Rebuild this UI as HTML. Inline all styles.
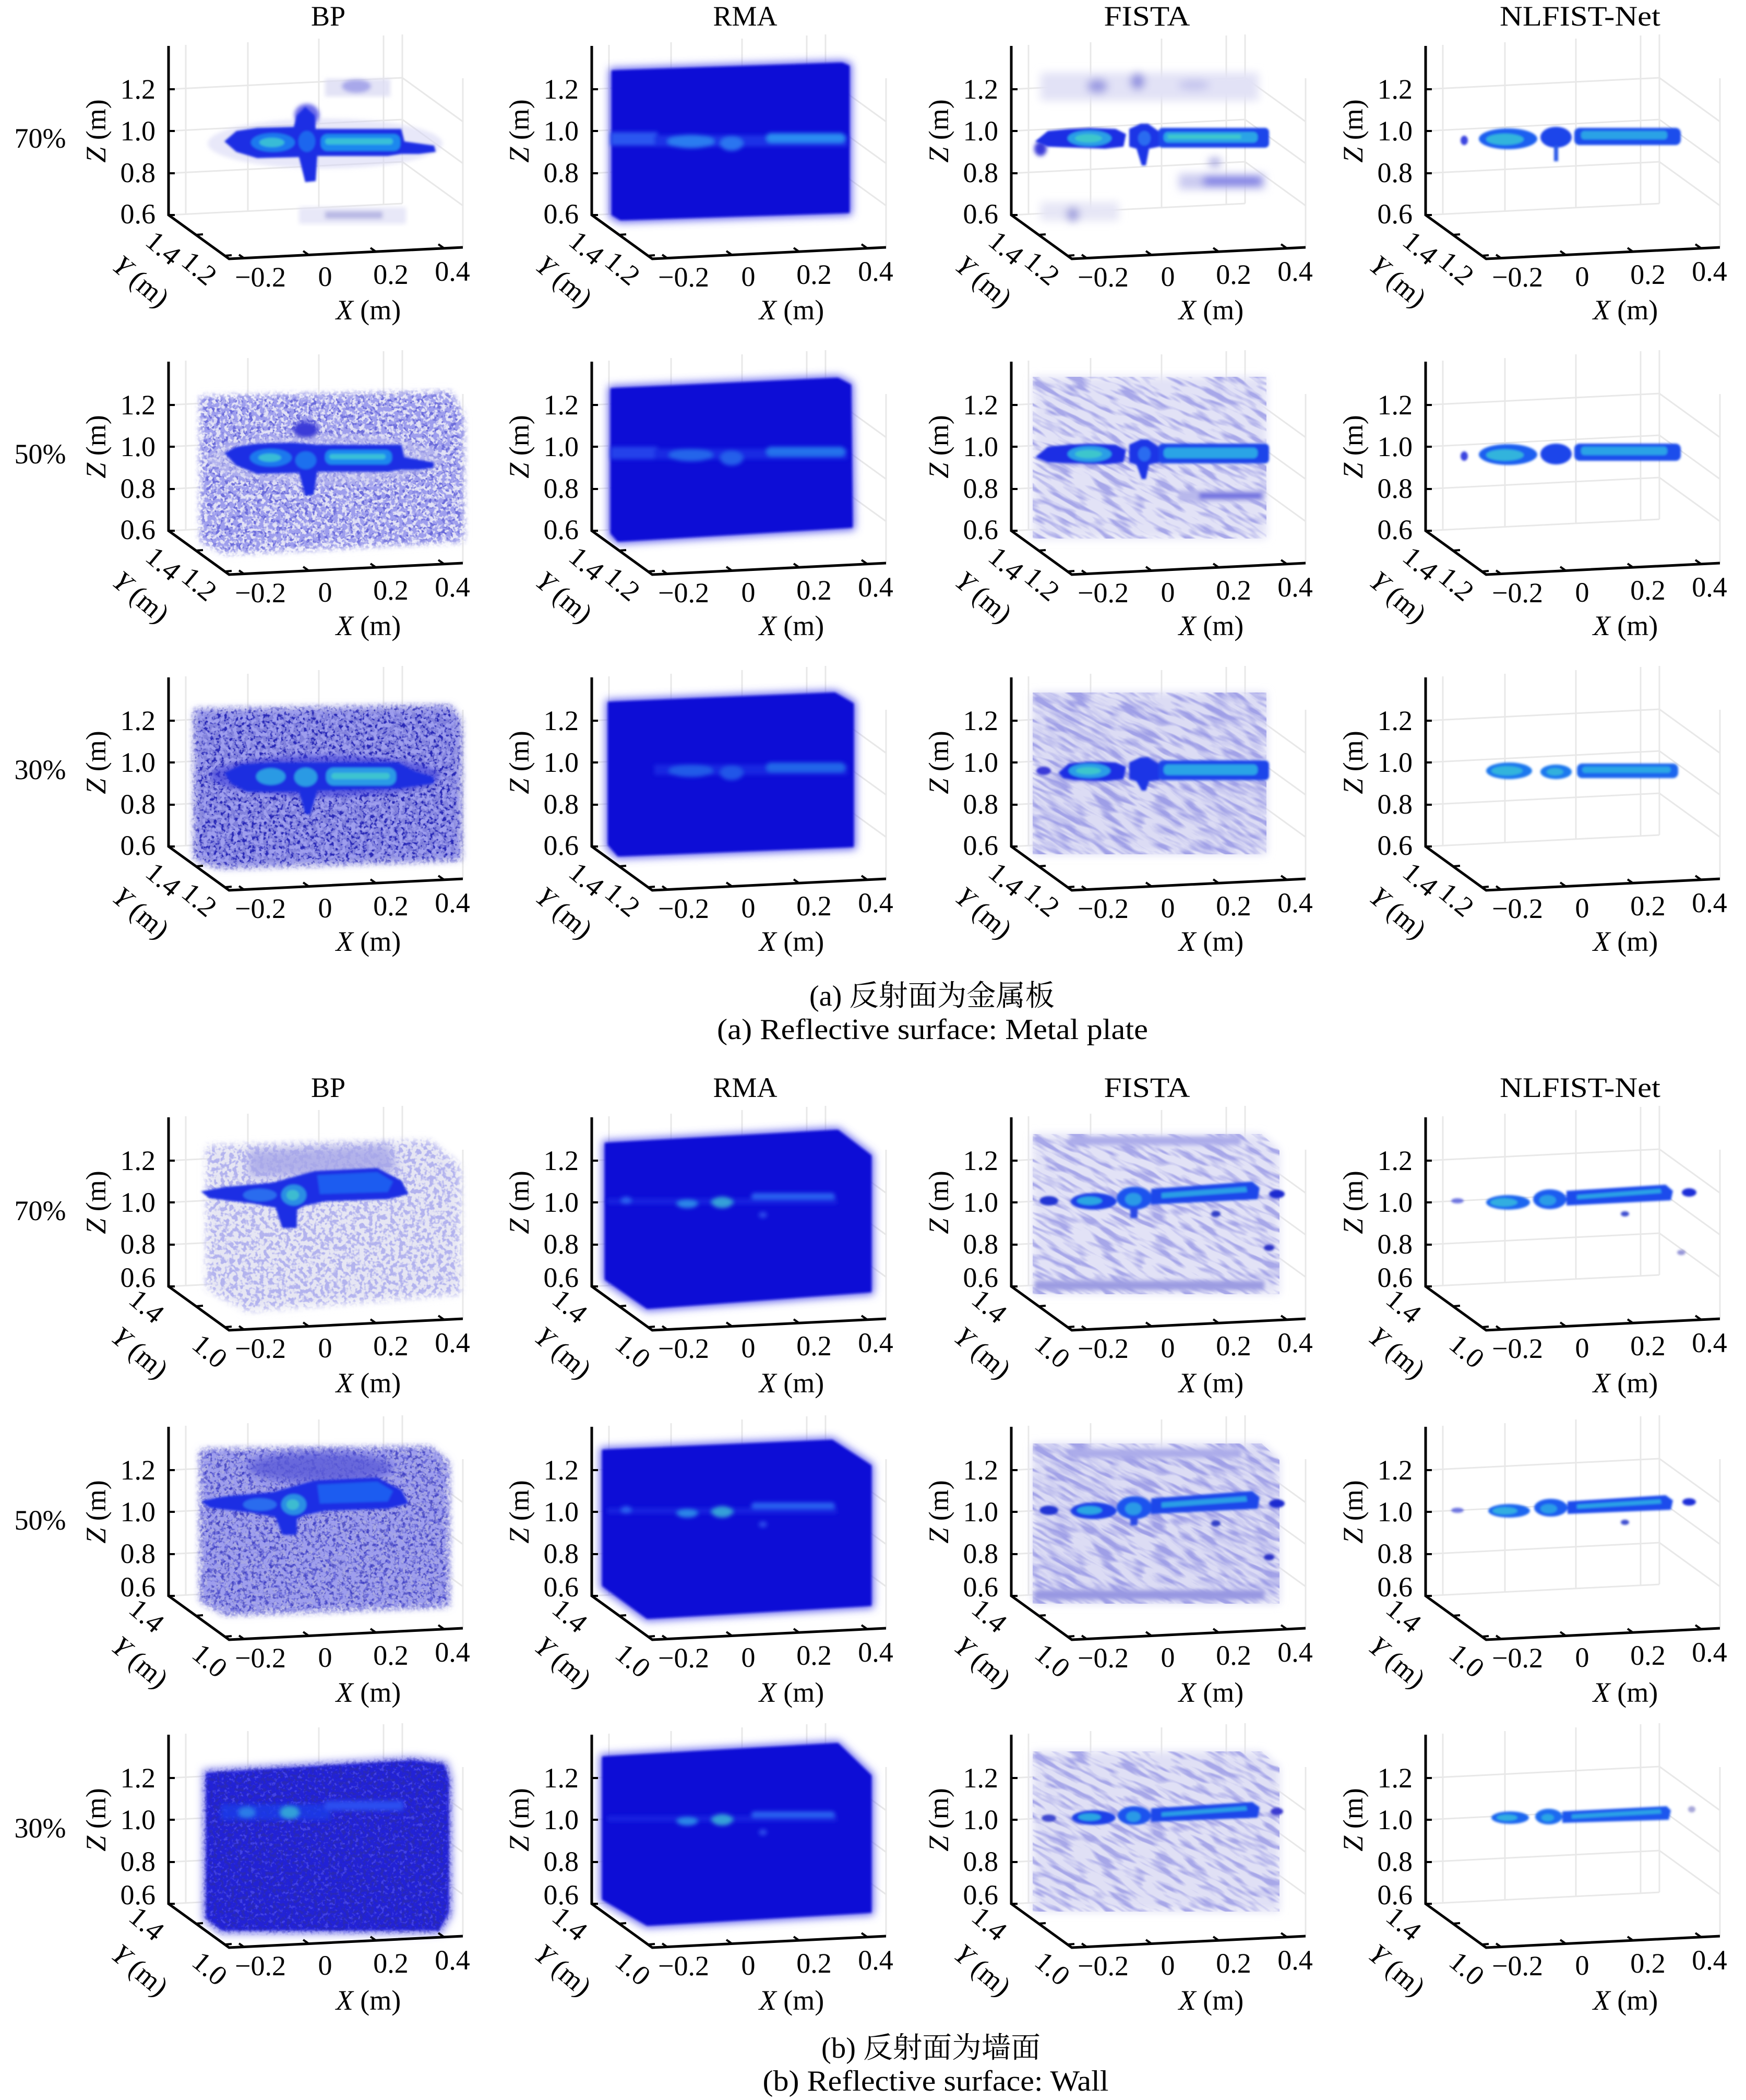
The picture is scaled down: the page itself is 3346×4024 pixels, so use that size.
<!DOCTYPE html>
<html><head><meta charset="utf-8">
<style>
html,body{margin:0;padding:0;background:#fff;width:3346px;height:4024px;overflow:hidden}
svg{display:block;overflow:hidden}
text{font-family:"Liberation Serif","Noto Serif CJK SC",serif;font-size:54px;fill:#000}
.e{text-anchor:end}.m{text-anchor:middle}.c{text-anchor:middle;dominant-baseline:central}
.ax{fill:none;stroke:#000;stroke-width:5}
.tk{fill:none;stroke:#000;stroke-width:4}
.gr{fill:none;stroke:#e8e8e8;stroke-width:3}
</style></head><body>
<svg xmlns="http://www.w3.org/2000/svg" width="3346" height="4024" viewBox="0 0 3346 4024">
<defs>
<filter id="b2" x="-20%" y="-20%" width="140%" height="140%"><feGaussianBlur stdDeviation="2"/></filter>
<filter id="b4" x="-30%" y="-30%" width="160%" height="160%"><feGaussianBlur stdDeviation="4"/></filter>
<filter id="b8" x="-20%" y="-20%" width="140%" height="140%"><feGaussianBlur stdDeviation="8"/></filter>
<filter id="nL" x="-3%" y="-3%" width="106%" height="106%" color-interpolation-filters="sRGB">
<feGaussianBlur in="SourceAlpha" stdDeviation="6" result="m"/>
<feTurbulence type="fractalNoise" baseFrequency="0.12" numOctaves="2" seed="3" result="t"/>
<feColorMatrix in="t" type="matrix" values="0 0 0 0 0.62 0 0 0 0 0.62 0 0 0 0 0.93 6 0 0 0 -2.7" result="c"/>
<feComposite in="c" in2="m" operator="in"/></filter>
<filter id="nM" x="-3%" y="-3%" width="106%" height="106%" color-interpolation-filters="sRGB">
<feGaussianBlur in="SourceAlpha" stdDeviation="6" result="m"/>
<feTurbulence type="fractalNoise" baseFrequency="0.13" numOctaves="2" seed="7" result="t"/>
<feColorMatrix in="t" type="matrix" values="0 0 0 0 0.42 0 0 0 0 0.42 0 0 0 0 0.86 6 0 0 0 -2.8" result="c"/>
<feComposite in="c" in2="m" operator="in"/></filter>
<filter id="nD" x="-3%" y="-3%" width="106%" height="106%" color-interpolation-filters="sRGB">
<feGaussianBlur in="SourceAlpha" stdDeviation="6" result="m"/>
<feTurbulence type="fractalNoise" baseFrequency="0.15" numOctaves="2" seed="13" result="t"/>
<feColorMatrix in="t" type="matrix" values="0 0 0 0 0.16 0 0 0 0 0.16 0 0 0 0 0.72 6 0 0 0 -2.9" result="c"/>
<feComposite in="c" in2="m" operator="in"/></filter>
<filter id="nB" x="-3%" y="-3%" width="106%" height="106%" color-interpolation-filters="sRGB">
<feGaussianBlur in="SourceAlpha" stdDeviation="6" result="m"/>
<feTurbulence type="fractalNoise" baseFrequency="0.14" numOctaves="2" seed="21" result="t"/>
<feColorMatrix in="t" type="matrix" values="0 0 0 0 0.30 0 0 0 0 0.30 0 0 0 0 0.92 6 0 0 0 -3.2" result="c"/>
<feComposite in="c" in2="m" operator="in"/></filter>
<filter id="nS" x="-3%" y="-3%" width="106%" height="106%" color-interpolation-filters="sRGB">
<feTurbulence type="fractalNoise" baseFrequency="0.02 0.09" numOctaves="2" seed="5" result="t"/>
<feColorMatrix in="t" type="matrix" values="0 0 0 0 0.60 0 0 0 0 0.60 0 0 0 0 0.90 4 0 0 0 -1.8" result="c"/>
<feComposite in="c" in2="SourceAlpha" operator="in"/></filter>
<clipPath id="cFt"><polygon points="41,-134 489,-134 489,176 41,176"/></clipPath>
<clipPath id="cFb"><polygon points="41,-131 480,-131 514,-100 514,176 41,176"/></clipPath>
</defs>
<rect width="3346" height="4024" fill="#fff"/>

<!-- titles top -->
<text class="m" x="629" y="49">BP</text>
<text class="m" x="1428" y="49">RMA</text>
<text class="m" x="2198" y="49" textLength="165" lengthAdjust="spacingAndGlyphs">FISTA</text>
<text class="m" x="3028" y="49" textLength="308" lengthAdjust="spacingAndGlyphs">NLFIST-Net</text>
<text class="m" x="77" y="283">70%</text>
<text class="m" x="77" y="888">50%</text>
<text class="m" x="77" y="1493">30%</text>

<!-- ========== ROW 1 (top, R=251) ========== -->
<g transform="translate(323,251)">
<path class="gr" d="M33,159V-165M152,154V-170M288,147V-177M412,141V-183M448,139V-185M564,223V-101M0,-80L448,-102M0,0L448,-22M0,81L448,59M0,161L448,139M448,-102L564,-18M448,-22L564,62M448,59L564,143"/>
<g filter="url(#b4)">
<ellipse cx="300" cy="24" rx="225" ry="48" fill="#d6d6f4" opacity=".55"/>
<rect x="300" y="-100" width="125" height="34" fill="#dcdcf4" opacity=".8"/>
<ellipse cx="360" cy="-86" rx="28" ry="13" fill="#a8a8ea"/>
<rect x="250" y="146" width="205" height="32" fill="#e2e2f6" opacity=".8"/>
<rect x="300" y="154" width="110" height="14" fill="#acacdf" opacity=".8"/>
<ellipse cx="265" cy="-30" rx="24" ry="22" fill="#6a6aea"/>
</g>
<g filter="url(#b2)">
<polygon points="107,20 130,0 170,-6 240,-8 246,-30 262,-46 280,-30 282,-4 446,-4 452,20 509,28 512,40 480,44 446,44 420,48 285,48 282,96 262,98 250,50 170,52 130,40" fill="#1c2ee4"/>
<ellipse cx="200" cy="22" rx="42" ry="18" fill="#1f78ee"/>
<ellipse cx="198" cy="22" rx="24" ry="9" fill="#38bcd6"/>
<ellipse cx="265" cy="20" rx="16" ry="20" fill="#1e66ee"/>
<rect x="292" y="6" width="152" height="32" rx="12" fill="#1e88ee"/>
<rect x="300" y="14" width="130" height="12" rx="6" fill="#38c0d8"/>
</g>
<path class="ax" d="M0,-163V161L116,245L564,223"/>
<path class="tk" d="M0,-80h12M0,0h12M0,81h12M0,161h12M53,199l13,-1M108,239l13,-1M145,244l-10,-7M268,237l-10,-7M397,231l-10,-7M527,224l-10,-7"/>
<text class="e" x="-25" y="-62">1.2</text><text class="e" x="-25" y="18">1.0</text><text class="e" x="-25" y="98">0.8</text><text class="e" x="-25" y="177">0.6</text>
<text class="m" x="176" y="298">−0.2</text><text class="m" x="300" y="297">0</text><text class="m" x="426" y="293">0.2</text><text class="m" x="544" y="287">0.4</text>
<text class="m" x="383" y="361"><tspan font-style="italic">X</tspan> (m)</text>
<text class="m" transform="translate(-121,0) rotate(-90)"><tspan font-style="italic">Z</tspan> (m)</text>
<text class="c" transform="translate(-10,224) rotate(40)">1.4</text>
<text class="c" transform="translate(59,263) rotate(40)">1.2</text>
<text class="c" transform="translate(-53,288) rotate(40)"><tspan font-style="italic">Y</tspan> (m)</text>
</g>

<g transform="translate(1134,251)">
<path class="gr" d="M33,159V-165M152,154V-170M288,147V-177M412,141V-183M448,139V-185M564,223V-101M0,-80L448,-102M0,0L448,-22M0,81L448,59M0,161L448,139M448,-102L564,-18M448,-22L564,62M448,59L564,143"/>
<polygon points="34,-120 481,-135 498,-129 498,161 53,175 34,165" fill="#5a5aee" filter="url(#b8)"/>
<polygon points="38,-116 480,-131 494,-125 494,157 55,171 38,161" fill="#0e0ed6" filter="url(#b2)"/>
<g filter="url(#b4)">
<rect x="36" y="2" width="90" height="26" fill="#2a56f0"/>
<rect x="120" y="8" width="370" height="22" fill="#1a30e6"/>
<ellipse cx="190" cy="20" rx="45" ry="13" fill="#2c7cf0"/>
<ellipse cx="268" cy="24" rx="22" ry="14" fill="#2c74f0"/>
<rect x="335" y="4" width="150" height="18" rx="8" fill="#2c8cf2"/>
</g>
<path class="ax" d="M0,-163V161L116,245L564,223"/>
<path class="tk" d="M0,-80h12M0,0h12M0,81h12M0,161h12M53,199l13,-1M108,239l13,-1M145,244l-10,-7M268,237l-10,-7M397,231l-10,-7M527,224l-10,-7"/>
<text class="e" x="-25" y="-62">1.2</text><text class="e" x="-25" y="18">1.0</text><text class="e" x="-25" y="98">0.8</text><text class="e" x="-25" y="177">0.6</text>
<text class="m" x="176" y="298">−0.2</text><text class="m" x="300" y="297">0</text><text class="m" x="426" y="293">0.2</text><text class="m" x="544" y="287">0.4</text>
<text class="m" x="383" y="361"><tspan font-style="italic">X</tspan> (m)</text>
<text class="m" transform="translate(-121,0) rotate(-90)"><tspan font-style="italic">Z</tspan> (m)</text>
<text class="c" transform="translate(-10,224) rotate(40)">1.4</text>
<text class="c" transform="translate(59,263) rotate(40)">1.2</text>
<text class="c" transform="translate(-53,288) rotate(40)"><tspan font-style="italic">Y</tspan> (m)</text>
</g>

<g transform="translate(1938,251)">
<path class="gr" d="M33,159V-165M152,154V-170M288,147V-177M412,141V-183M448,139V-185M564,223V-101M0,-80L448,-102M0,0L448,-22M0,81L448,59M0,161L448,139M448,-102L564,-18M448,-22L564,62M448,59L564,143"/>
<g filter="url(#b8)">
<rect x="56" y="-112" width="418" height="54" fill="#e2e2f6"/>
<ellipse cx="165" cy="-86" rx="20" ry="14" fill="#9a9ae2"/>
<ellipse cx="242" cy="-95" rx="14" ry="16" fill="#9090e0"/>
<ellipse cx="350" cy="-88" rx="30" ry="10" fill="#c4c4ee"/>
<rect x="321" y="82" width="165" height="30" fill="#cacaf0"/>
<rect x="368" y="88" width="112" height="16" fill="#6a6ae2"/>
<ellipse cx="390" cy="60" rx="12" ry="8" fill="#9a9adc"/>
<rect x="56" y="136" width="150" height="36" fill="#e6e6f6"/>
<ellipse cx="118" cy="160" rx="12" ry="14" fill="#9a9adc"/>
</g>
<ellipse cx="56" cy="34" rx="12" ry="14" fill="#3a3ad8" filter="url(#b4)"/>
<g filter="url(#b2)">
<polygon points="46,20 70,0 110,-4 150,-6 200,-4 220,6 215,30 180,34 120,32 70,30" fill="#1c2ee4"/>
<ellipse cx="150" cy="14" rx="42" ry="15" fill="#2a9ee6"/>
<ellipse cx="148" cy="14" rx="26" ry="8" fill="#3cc6cc"/>
<polygon points="226,-4 248,-14 262,-14 282,0 284,30 264,34 258,66 250,66 240,34 226,30" fill="#1b36e6"/>
<ellipse cx="255" cy="14" rx="12" ry="14" fill="#2a6cf0"/>
<rect x="282" y="-6" width="212" height="38" rx="8" fill="#1b44ea"/>
<rect x="292" y="2" width="180" height="20" rx="8" fill="#2aa4e6"/>
<rect x="300" y="7" width="140" height="8" fill="#3cc8cc"/>
</g>
<path class="ax" d="M0,-163V161L116,245L564,223"/>
<path class="tk" d="M0,-80h12M0,0h12M0,81h12M0,161h12M53,199l13,-1M108,239l13,-1M145,244l-10,-7M268,237l-10,-7M397,231l-10,-7M527,224l-10,-7"/>
<text class="e" x="-25" y="-62">1.2</text><text class="e" x="-25" y="18">1.0</text><text class="e" x="-25" y="98">0.8</text><text class="e" x="-25" y="177">0.6</text>
<text class="m" x="176" y="298">−0.2</text><text class="m" x="300" y="297">0</text><text class="m" x="426" y="293">0.2</text><text class="m" x="544" y="287">0.4</text>
<text class="m" x="383" y="361"><tspan font-style="italic">X</tspan> (m)</text>
<text class="m" transform="translate(-121,0) rotate(-90)"><tspan font-style="italic">Z</tspan> (m)</text>
<text class="c" transform="translate(-10,224) rotate(40)">1.4</text>
<text class="c" transform="translate(59,263) rotate(40)">1.2</text>
<text class="c" transform="translate(-53,288) rotate(40)"><tspan font-style="italic">Y</tspan> (m)</text>
</g>

<g transform="translate(2732,251)">
<path class="gr" d="M33,159V-165M152,154V-170M288,147V-177M412,141V-183M448,139V-185M564,223V-101M0,-80L448,-102M0,0L448,-22M0,81L448,59M0,161L448,139M448,-102L564,-18M448,-22L564,62M448,59L564,143"/>
<g filter="url(#b2)">
<ellipse cx="74" cy="18" rx="7" ry="9" fill="#3a44e0"/>
<ellipse cx="158" cy="15" rx="56" ry="20" fill="#1f5ef0"/>
<ellipse cx="152" cy="16" rx="36" ry="11" fill="#32b4dc"/>
<ellipse cx="250" cy="12" rx="30" ry="20" fill="#1c44ea"/>
<rect x="246" y="28" width="8" height="30" fill="#2a5ae8"/>
<rect x="285" y="-6" width="204" height="33" rx="10" fill="#1c4eec"/>
<rect x="298" y="0" width="165" height="16" rx="6" fill="#2aa2e6"/>
</g>
<path class="ax" d="M0,-163V161L116,245L564,223"/>
<path class="tk" d="M0,-80h12M0,0h12M0,81h12M0,161h12M53,199l13,-1M108,239l13,-1M145,244l-10,-7M268,237l-10,-7M397,231l-10,-7M527,224l-10,-7"/>
<text class="e" x="-25" y="-62">1.2</text><text class="e" x="-25" y="18">1.0</text><text class="e" x="-25" y="98">0.8</text><text class="e" x="-25" y="177">0.6</text>
<text class="m" x="176" y="298">−0.2</text><text class="m" x="300" y="297">0</text><text class="m" x="426" y="293">0.2</text><text class="m" x="544" y="287">0.4</text>
<text class="m" x="383" y="361"><tspan font-style="italic">X</tspan> (m)</text>
<text class="m" transform="translate(-121,0) rotate(-90)"><tspan font-style="italic">Z</tspan> (m)</text>
<text class="c" transform="translate(-10,224) rotate(40)">1.4</text>
<text class="c" transform="translate(59,263) rotate(40)">1.2</text>
<text class="c" transform="translate(-53,288) rotate(40)"><tspan font-style="italic">Y</tspan> (m)</text>
</g>

<!-- ========== ROW 2 (top, R=856) ========== -->
<g transform="translate(323,856)">
<path class="gr" d="M33,159V-165M152,154V-170M288,147V-177M412,141V-183M448,139V-185M564,223V-101M0,-80L448,-102M0,0L448,-22M0,81L448,59M0,161L448,139M448,-102L564,-18M448,-22L564,62M448,59L564,143"/>
<polygon points="62,-95 540,-104 564,-60 564,180 110,204 62,180" fill="#e2e2f6" filter="url(#b8)"/>
<polygon points="62,-95 540,-104 564,-60 564,180 110,204 62,180" filter="url(#nM)"/>
<polygon points="62,-95 540,-104 564,-60 564,180 110,204 62,180" filter="url(#nL)"/>
<g filter="url(#b4)">
<ellipse cx="300" cy="24" rx="225" ry="48" fill="#c8c8f0" opacity=".5"/>
<ellipse cx="263" cy="-32" rx="24" ry="16" fill="#3a3ad8"/>
</g>
<g filter="url(#b2)">
<polygon points="107,12 130,0 170,-6 240,-8 282,-4 446,-4 452,20 508,30 508,40 480,44 446,44 420,48 285,48 278,92 262,94 250,50 170,52 130,36" fill="#1c2ee4"/>
<ellipse cx="196" cy="21" rx="40" ry="17" fill="#1f78ee"/>
<ellipse cx="194" cy="21" rx="22" ry="8" fill="#38bcd6"/>
<ellipse cx="263" cy="26" rx="20" ry="17" fill="#1e70ee"/>
<rect x="300" y="6" width="128" height="28" rx="12" fill="#1e88ee"/>
<rect x="308" y="14" width="108" height="10" rx="5" fill="#38c0d8"/>
</g>
<path class="ax" d="M0,-163V161L116,245L564,223"/>
<path class="tk" d="M0,-80h12M0,0h12M0,81h12M0,161h12M53,199l13,-1M108,239l13,-1M145,244l-10,-7M268,237l-10,-7M397,231l-10,-7M527,224l-10,-7"/>
<text class="e" x="-25" y="-62">1.2</text><text class="e" x="-25" y="18">1.0</text><text class="e" x="-25" y="98">0.8</text><text class="e" x="-25" y="177">0.6</text>
<text class="m" x="176" y="298">−0.2</text><text class="m" x="300" y="297">0</text><text class="m" x="426" y="293">0.2</text><text class="m" x="544" y="287">0.4</text>
<text class="m" x="383" y="361"><tspan font-style="italic">X</tspan> (m)</text>
<text class="m" transform="translate(-121,0) rotate(-90)"><tspan font-style="italic">Z</tspan> (m)</text>
<text class="c" transform="translate(-10,224) rotate(40)">1.4</text>
<text class="c" transform="translate(59,263) rotate(40)">1.2</text>
<text class="c" transform="translate(-53,288) rotate(40)"><tspan font-style="italic">Y</tspan> (m)</text>
</g>

<g transform="translate(1134,856)">
<path class="gr" d="M33,159V-165M152,154V-170M288,147V-177M412,141V-183M448,139V-185M564,223V-101M0,-80L448,-102M0,0L448,-22M0,81L448,59M0,161L448,139M448,-102L564,-18M448,-22L564,62M448,59L564,143"/>
<polygon points="32,-116 473,-136 501,-122 504,159 49,186 32,170" fill="#5a5aee" filter="url(#b8)"/>
<polygon points="36,-112 472,-132 497,-119 500,155 50,182 36,166" fill="#0e0ed6" filter="url(#b2)"/>
<g filter="url(#b4)" opacity=".8">
<rect x="36" y="0" width="90" height="24" fill="#2a50f0"/>
<rect x="120" y="4" width="370" height="20" fill="#1a30e6"/>
<ellipse cx="190" cy="16" rx="42" ry="12" fill="#2c7cf0"/>
<ellipse cx="268" cy="22" rx="22" ry="14" fill="#2c74f0"/>
<rect x="335" y="0" width="150" height="18" rx="8" fill="#2c8cf2"/>
</g>
<path class="ax" d="M0,-163V161L116,245L564,223"/>
<path class="tk" d="M0,-80h12M0,0h12M0,81h12M0,161h12M53,199l13,-1M108,239l13,-1M145,244l-10,-7M268,237l-10,-7M397,231l-10,-7M527,224l-10,-7"/>
<text class="e" x="-25" y="-62">1.2</text><text class="e" x="-25" y="18">1.0</text><text class="e" x="-25" y="98">0.8</text><text class="e" x="-25" y="177">0.6</text>
<text class="m" x="176" y="298">−0.2</text><text class="m" x="300" y="297">0</text><text class="m" x="426" y="293">0.2</text><text class="m" x="544" y="287">0.4</text>
<text class="m" x="383" y="361"><tspan font-style="italic">X</tspan> (m)</text>
<text class="m" transform="translate(-121,0) rotate(-90)"><tspan font-style="italic">Z</tspan> (m)</text>
<text class="c" transform="translate(-10,224) rotate(40)">1.4</text>
<text class="c" transform="translate(59,263) rotate(40)">1.2</text>
<text class="c" transform="translate(-53,288) rotate(40)"><tspan font-style="italic">Y</tspan> (m)</text>
</g>

<g transform="translate(1938,856)">
<path class="gr" d="M33,159V-165M152,154V-170M288,147V-177M412,141V-183M448,139V-185M564,223V-101M0,-80L448,-102M0,0L448,-22M0,81L448,59M0,161L448,139M448,-102L564,-18M448,-22L564,62M448,59L564,143"/>
<polygon points="41,-134 489,-134 489,176 41,176" fill="#e2e2f6" filter="url(#b8)"/>
<g clip-path="url(#cFt)" opacity=".8"><rect x="-23" y="-279" width="600" height="600" transform="rotate(28 277 21)" filter="url(#nS)"/></g>
<g filter="url(#b4)">
<rect x="321" y="84" width="165" height="20" fill="#b8b8ec"/>
<rect x="360" y="88" width="120" height="12" fill="#7070e0"/>
</g>
<g filter="url(#b2)">
<polygon points="46,20 70,0 110,-4 150,-6 200,-4 220,6 215,30 180,34 120,32 70,30" fill="#1c2ee4"/>
<ellipse cx="150" cy="14" rx="42" ry="15" fill="#2a9ee6"/>
<ellipse cx="148" cy="14" rx="26" ry="8" fill="#3cc6cc"/>
<polygon points="226,-4 248,-14 262,-14 282,0 284,30 264,34 258,62 250,62 240,34 226,30" fill="#1b36e6"/>
<ellipse cx="255" cy="14" rx="12" ry="14" fill="#2a6cf0"/>
<rect x="282" y="-6" width="212" height="38" rx="8" fill="#1b44ea"/>
<rect x="292" y="2" width="180" height="20" rx="8" fill="#2aa4e6"/>
</g>
<path class="ax" d="M0,-163V161L116,245L564,223"/>
<path class="tk" d="M0,-80h12M0,0h12M0,81h12M0,161h12M53,199l13,-1M108,239l13,-1M145,244l-10,-7M268,237l-10,-7M397,231l-10,-7M527,224l-10,-7"/>
<text class="e" x="-25" y="-62">1.2</text><text class="e" x="-25" y="18">1.0</text><text class="e" x="-25" y="98">0.8</text><text class="e" x="-25" y="177">0.6</text>
<text class="m" x="176" y="298">−0.2</text><text class="m" x="300" y="297">0</text><text class="m" x="426" y="293">0.2</text><text class="m" x="544" y="287">0.4</text>
<text class="m" x="383" y="361"><tspan font-style="italic">X</tspan> (m)</text>
<text class="m" transform="translate(-121,0) rotate(-90)"><tspan font-style="italic">Z</tspan> (m)</text>
<text class="c" transform="translate(-10,224) rotate(40)">1.4</text>
<text class="c" transform="translate(59,263) rotate(40)">1.2</text>
<text class="c" transform="translate(-53,288) rotate(40)"><tspan font-style="italic">Y</tspan> (m)</text>
</g>

<g transform="translate(2732,856)">
<path class="gr" d="M33,159V-165M152,154V-170M288,147V-177M412,141V-183M448,139V-185M564,223V-101M0,-80L448,-102M0,0L448,-22M0,81L448,59M0,161L448,139M448,-102L564,-18M448,-22L564,62M448,59L564,143"/>
<g filter="url(#b2)">
<ellipse cx="74" cy="18" rx="7" ry="9" fill="#3a44e0"/>
<ellipse cx="158" cy="15" rx="56" ry="20" fill="#1f5ef0"/>
<ellipse cx="152" cy="16" rx="36" ry="11" fill="#32b4dc"/>
<ellipse cx="250" cy="14" rx="30" ry="20" fill="#1c44ea"/>
<rect x="285" y="-6" width="204" height="33" rx="10" fill="#1c4eec"/>
<rect x="298" y="0" width="165" height="16" rx="6" fill="#2aa2e6"/>
</g>
<path class="ax" d="M0,-163V161L116,245L564,223"/>
<path class="tk" d="M0,-80h12M0,0h12M0,81h12M0,161h12M53,199l13,-1M108,239l13,-1M145,244l-10,-7M268,237l-10,-7M397,231l-10,-7M527,224l-10,-7"/>
<text class="e" x="-25" y="-62">1.2</text><text class="e" x="-25" y="18">1.0</text><text class="e" x="-25" y="98">0.8</text><text class="e" x="-25" y="177">0.6</text>
<text class="m" x="176" y="298">−0.2</text><text class="m" x="300" y="297">0</text><text class="m" x="426" y="293">0.2</text><text class="m" x="544" y="287">0.4</text>
<text class="m" x="383" y="361"><tspan font-style="italic">X</tspan> (m)</text>
<text class="m" transform="translate(-121,0) rotate(-90)"><tspan font-style="italic">Z</tspan> (m)</text>
<text class="c" transform="translate(-10,224) rotate(40)">1.4</text>
<text class="c" transform="translate(59,263) rotate(40)">1.2</text>
<text class="c" transform="translate(-53,288) rotate(40)"><tspan font-style="italic">Y</tspan> (m)</text>
</g>

<!-- ========== ROW 3 (top, R=1461) ========== -->
<g transform="translate(323,1461)">
<path class="gr" d="M33,159V-165M152,154V-170M288,147V-177M412,141V-183M448,139V-185M564,223V-101M0,-80L448,-102M0,0L448,-22M0,81L448,59M0,161L448,139M448,-102L564,-18M448,-22L564,62M448,59L564,143"/>
<polygon points="51,-100 540,-107 559,-80 559,185 100,201 51,185" fill="#8282dc" filter="url(#b8)"/>
<polygon points="51,-100 540,-107 559,-80 559,185 100,201 51,185" filter="url(#nD)"/>
<polygon points="51,-100 540,-107 559,-80 559,185 100,201 51,185" filter="url(#nL)"/>
<g filter="url(#b4)">
<ellipse cx="300" cy="26" rx="220" ry="40" fill="#3a3ad8" opacity=".6"/>
</g>
<g filter="url(#b2)">
<polygon points="107,20 140,4 200,0 440,0 470,16 508,28 508,40 440,50 285,54 272,99 262,99 250,56 150,56 120,40" fill="#1c2ee0"/>
<ellipse cx="196" cy="27" rx="28" ry="16" fill="#2a9ae4"/>
<ellipse cx="263" cy="28" rx="22" ry="18" fill="#2a9ae4"/>
<rect x="302" y="10" width="134" height="34" rx="14" fill="#2a9ae6"/>
<rect x="312" y="20" width="112" height="12" rx="6" fill="#3cc4d0"/>
</g>
<path class="ax" d="M0,-163V161L116,245L564,223"/>
<path class="tk" d="M0,-80h12M0,0h12M0,81h12M0,161h12M53,199l13,-1M108,239l13,-1M145,244l-10,-7M268,237l-10,-7M397,231l-10,-7M527,224l-10,-7"/>
<text class="e" x="-25" y="-62">1.2</text><text class="e" x="-25" y="18">1.0</text><text class="e" x="-25" y="98">0.8</text><text class="e" x="-25" y="177">0.6</text>
<text class="m" x="176" y="298">−0.2</text><text class="m" x="300" y="297">0</text><text class="m" x="426" y="293">0.2</text><text class="m" x="544" y="287">0.4</text>
<text class="m" x="383" y="361"><tspan font-style="italic">X</tspan> (m)</text>
<text class="m" transform="translate(-121,0) rotate(-90)"><tspan font-style="italic">Z</tspan> (m)</text>
<text class="c" transform="translate(-10,224) rotate(40)">1.4</text>
<text class="c" transform="translate(59,263) rotate(40)">1.2</text>
<text class="c" transform="translate(-53,288) rotate(40)"><tspan font-style="italic">Y</tspan> (m)</text>
</g>

<g transform="translate(1134,1461)">
<path class="gr" d="M33,159V-165M152,154V-170M288,147V-177M412,141V-183M448,139V-185M564,223V-101M0,-80L448,-102M0,0L448,-22M0,81L448,59M0,161L448,139M448,-102L564,-18M448,-22L564,62M448,59L564,143"/>
<polygon points="27,-120 467,-138 506,-116 506,166 49,184 27,162" fill="#5a5aee" filter="url(#b8)"/>
<polygon points="31,-116 466,-134 502,-113 502,162 50,180 31,158" fill="#0e0ed6" filter="url(#b2)"/>
<g filter="url(#b4)" opacity=".7">
<rect x="120" y="4" width="370" height="20" fill="#1a30e6"/>
<ellipse cx="190" cy="16" rx="42" ry="12" fill="#2c7cf0"/>
<ellipse cx="268" cy="20" rx="22" ry="14" fill="#2c74f0"/>
<rect x="335" y="0" width="150" height="18" rx="8" fill="#2c8cf2"/>
</g>
<path class="ax" d="M0,-163V161L116,245L564,223"/>
<path class="tk" d="M0,-80h12M0,0h12M0,81h12M0,161h12M53,199l13,-1M108,239l13,-1M145,244l-10,-7M268,237l-10,-7M397,231l-10,-7M527,224l-10,-7"/>
<text class="e" x="-25" y="-62">1.2</text><text class="e" x="-25" y="18">1.0</text><text class="e" x="-25" y="98">0.8</text><text class="e" x="-25" y="177">0.6</text>
<text class="m" x="176" y="298">−0.2</text><text class="m" x="300" y="297">0</text><text class="m" x="426" y="293">0.2</text><text class="m" x="544" y="287">0.4</text>
<text class="m" x="383" y="361"><tspan font-style="italic">X</tspan> (m)</text>
<text class="m" transform="translate(-121,0) rotate(-90)"><tspan font-style="italic">Z</tspan> (m)</text>
<text class="c" transform="translate(-10,224) rotate(40)">1.4</text>
<text class="c" transform="translate(59,263) rotate(40)">1.2</text>
<text class="c" transform="translate(-53,288) rotate(40)"><tspan font-style="italic">Y</tspan> (m)</text>
</g>

<g transform="translate(1938,1461)">
<path class="gr" d="M33,159V-165M152,154V-170M288,147V-177M412,141V-183M448,139V-185M564,223V-101M0,-80L448,-102M0,0L448,-22M0,81L448,59M0,161L448,139M448,-102L564,-18M448,-22L564,62M448,59L564,143"/>
<polygon points="41,-134 489,-134 489,176 41,176" fill="#dcdcf4" filter="url(#b8)"/>
<g clip-path="url(#cFt)" opacity=".85"><rect x="-23" y="-279" width="600" height="600" transform="rotate(28 277 21)" filter="url(#nS)"/></g>
<g clip-path="url(#cFt)" opacity=".35"><rect x="-23" y="-279" width="600" height="600" transform="rotate(32 277 21)" filter="url(#nS)"/></g>
<g filter="url(#b2)">
<ellipse cx="62" cy="16" rx="14" ry="8" fill="#3a3ad8"/>
<polygon points="90,20 110,2 150,-2 200,0 220,8 215,32 180,36 120,34 100,30" fill="#1c2ee4"/>
<ellipse cx="150" cy="16" rx="40" ry="14" fill="#2a9ee6"/>
<ellipse cx="148" cy="16" rx="24" ry="7" fill="#3cc6cc"/>
<polygon points="226,0 248,-10 262,-10 282,2 284,34 264,36 258,54 250,54 240,36 226,32" fill="#1b36e6"/>
<rect x="282" y="-4" width="212" height="38" rx="8" fill="#1b44ea"/>
<rect x="292" y="4" width="180" height="20" rx="8" fill="#2aa4e6"/>
</g>
<path class="ax" d="M0,-163V161L116,245L564,223"/>
<path class="tk" d="M0,-80h12M0,0h12M0,81h12M0,161h12M53,199l13,-1M108,239l13,-1M145,244l-10,-7M268,237l-10,-7M397,231l-10,-7M527,224l-10,-7"/>
<text class="e" x="-25" y="-62">1.2</text><text class="e" x="-25" y="18">1.0</text><text class="e" x="-25" y="98">0.8</text><text class="e" x="-25" y="177">0.6</text>
<text class="m" x="176" y="298">−0.2</text><text class="m" x="300" y="297">0</text><text class="m" x="426" y="293">0.2</text><text class="m" x="544" y="287">0.4</text>
<text class="m" x="383" y="361"><tspan font-style="italic">X</tspan> (m)</text>
<text class="m" transform="translate(-121,0) rotate(-90)"><tspan font-style="italic">Z</tspan> (m)</text>
<text class="c" transform="translate(-10,224) rotate(40)">1.4</text>
<text class="c" transform="translate(59,263) rotate(40)">1.2</text>
<text class="c" transform="translate(-53,288) rotate(40)"><tspan font-style="italic">Y</tspan> (m)</text>
</g>

<g transform="translate(2732,1461)">
<path class="gr" d="M33,159V-165M152,154V-170M288,147V-177M412,141V-183M448,139V-185M564,223V-101M0,-80L448,-102M0,0L448,-22M0,81L448,59M0,161L448,139M448,-102L564,-18M448,-22L564,62M448,59L564,143"/>
<g filter="url(#b2)">
<ellipse cx="160" cy="16" rx="44" ry="16" fill="#1e78ee"/>
<ellipse cx="156" cy="16" rx="30" ry="9" fill="#30b4dc"/>
<ellipse cx="250" cy="18" rx="30" ry="14" fill="#1e78ee"/>
<ellipse cx="248" cy="18" rx="16" ry="7" fill="#30b0dc"/>
<rect x="290" y="2" width="194" height="28" rx="10" fill="#1e66ee"/>
<rect x="300" y="8" width="170" height="12" rx="6" fill="#2aa6e4"/>
</g>
<path class="ax" d="M0,-163V161L116,245L564,223"/>
<path class="tk" d="M0,-80h12M0,0h12M0,81h12M0,161h12M53,199l13,-1M108,239l13,-1M145,244l-10,-7M268,237l-10,-7M397,231l-10,-7M527,224l-10,-7"/>
<text class="e" x="-25" y="-62">1.2</text><text class="e" x="-25" y="18">1.0</text><text class="e" x="-25" y="98">0.8</text><text class="e" x="-25" y="177">0.6</text>
<text class="m" x="176" y="298">−0.2</text><text class="m" x="300" y="297">0</text><text class="m" x="426" y="293">0.2</text><text class="m" x="544" y="287">0.4</text>
<text class="m" x="383" y="361"><tspan font-style="italic">X</tspan> (m)</text>
<text class="m" transform="translate(-121,0) rotate(-90)"><tspan font-style="italic">Z</tspan> (m)</text>
<text class="c" transform="translate(-10,224) rotate(40)">1.4</text>
<text class="c" transform="translate(59,263) rotate(40)">1.2</text>
<text class="c" transform="translate(-53,288) rotate(40)"><tspan font-style="italic">Y</tspan> (m)</text>
</g>

<!-- caption a -->
<text class="m" x="1786" y="1927" textLength="470" lengthAdjust="spacingAndGlyphs" style="font-size:56px">(a) 反射面为金属板</text>
<text class="m" x="1787" y="1991" textLength="826" lengthAdjust="spacingAndGlyphs" style="font-size:56px">(a) Reflective surface: Metal plate</text>

<!-- titles bottom -->
<text class="m" x="629" y="2102">BP</text>
<text class="m" x="1428" y="2102">RMA</text>
<text class="m" x="2198" y="2102" textLength="165" lengthAdjust="spacingAndGlyphs">FISTA</text>
<text class="m" x="3028" y="2102" textLength="308" lengthAdjust="spacingAndGlyphs">NLFIST-Net</text>
<text class="m" x="77" y="2338">70%</text>
<text class="m" x="77" y="2931">50%</text>
<text class="m" x="77" y="3521">30%</text>

<!-- ========== ROW 4 (bottom, R=2304) ========== -->
<g transform="translate(323,2304)">
<path class="gr" d="M33,159V-165M152,154V-170M288,147V-177M412,141V-183M448,139V-185M564,223V-101M0,-80L448,-102M0,0L448,-22M0,81L448,59M0,161L448,139M448,-102L564,-18M448,-22L564,62M448,59L564,143"/>
<polygon points="73,-108 500,-118 559,-70 559,175 150,208 73,165" fill="#e6e6f3" filter="url(#b8)"/>
<polygon points="73,-108 500,-118 559,-70 559,175 150,208 73,165" filter="url(#nL)" opacity=".7"/>
<polygon points="153,-100 423,-111 440,-60 300,-48 153,-50" fill="#a6a6e8" filter="url(#b8)" opacity=".8"/>
<g filter="url(#b2)">
<polygon points="62,-21 110,-30 200,-38 280,-60 400,-66 446,-42 460,-16 420,-6 300,-2 262,6 246,14 246,49 218,49 205,10 160,2 79,-8" fill="#1c2ee4"/>
<ellipse cx="175" cy="-14" rx="32" ry="12" fill="#2a6cee"/>
<ellipse cx="240" cy="-14" rx="24" ry="20" fill="#2a8ee4"/>
<ellipse cx="238" cy="-14" rx="12" ry="10" fill="#3cbcd0"/>
<polygon points="285,-52 400,-58 430,-40 420,-20 290,-16" fill="#1e5cf0"/>
</g>
<path class="ax" d="M0,-163V161L116,245L564,223"/>
<path class="tk" d="M0,-80h12M0,0h12M0,81h12M0,161h12M53,199l13,-1M108,239l13,-1M145,244l-10,-7M268,237l-10,-7M397,231l-10,-7M527,224l-10,-7"/>
<text class="e" x="-25" y="-62">1.2</text><text class="e" x="-25" y="18">1.0</text><text class="e" x="-25" y="98">0.8</text><text class="e" x="-25" y="162">0.6</text>
<text class="m" x="176" y="298">−0.2</text><text class="m" x="300" y="297">0</text><text class="m" x="426" y="293">0.2</text><text class="m" x="544" y="287">0.4</text>
<text class="m" x="383" y="364"><tspan font-style="italic">X</tspan> (m)</text>
<text class="m" transform="translate(-121,0) rotate(-90)"><tspan font-style="italic">Z</tspan> (m)</text>
<text class="c" transform="translate(-42,199) rotate(40)">1.4</text>
<text class="c" transform="translate(79,285) rotate(40)">1.0</text>
<text class="c" transform="translate(-55,288) rotate(40)"><tspan font-style="italic">Y</tspan> (m)</text>
</g>

<g transform="translate(1134,2304)">
<path class="gr" d="M33,159V-165M152,154V-170M288,147V-177M412,141V-183M448,139V-185M564,223V-101M0,-80L448,-102M0,0L448,-22M0,81L448,59M0,161L448,139M448,-102L564,-18M448,-22L564,62M448,59L564,143"/>
<polygon points="21,-118 473,-143 540,-92 540,176 105,208 21,151" fill="#5a5aee" filter="url(#b8)"/>
<polygon points="25,-114 472,-139 536,-90 536,172 106,204 25,148" fill="#0e0ed6" filter="url(#b2)"/>
<g filter="url(#b4)">
<rect x="30" y="-8" width="440" height="12" fill="#1a28e2" opacity=".8"/>
<ellipse cx="66" cy="-4" rx="10" ry="7" fill="#2a5ef0"/>
<ellipse cx="183" cy="3" rx="20" ry="8" fill="#2a86e8"/>
<ellipse cx="250" cy="0" rx="20" ry="11" fill="#36a0d8"/>
<rect x="306" y="-18" width="160" height="12" rx="6" fill="#2a62f0"/>
<ellipse cx="328" cy="24" rx="8" ry="6" fill="#2a48ea"/>
</g>
<path class="ax" d="M0,-163V161L116,245L564,223"/>
<path class="tk" d="M0,-80h12M0,0h12M0,81h12M0,161h12M53,199l13,-1M108,239l13,-1M145,244l-10,-7M268,237l-10,-7M397,231l-10,-7M527,224l-10,-7"/>
<text class="e" x="-25" y="-62">1.2</text><text class="e" x="-25" y="18">1.0</text><text class="e" x="-25" y="98">0.8</text><text class="e" x="-25" y="162">0.6</text>
<text class="m" x="176" y="298">−0.2</text><text class="m" x="300" y="297">0</text><text class="m" x="426" y="293">0.2</text><text class="m" x="544" y="287">0.4</text>
<text class="m" x="383" y="364"><tspan font-style="italic">X</tspan> (m)</text>
<text class="m" transform="translate(-121,0) rotate(-90)"><tspan font-style="italic">Z</tspan> (m)</text>
<text class="c" transform="translate(-42,199) rotate(40)">1.4</text>
<text class="c" transform="translate(79,285) rotate(40)">1.0</text>
<text class="c" transform="translate(-55,288) rotate(40)"><tspan font-style="italic">Y</tspan> (m)</text>
</g>

<g transform="translate(1938,2304)">
<path class="gr" d="M33,159V-165M152,154V-170M288,147V-177M412,141V-183M448,139V-185M564,223V-101M0,-80L448,-102M0,0L448,-22M0,81L448,59M0,161L448,139M448,-102L564,-18M448,-22L564,62M448,59L564,143"/>
<polygon points="41,-131 480,-131 514,-100 514,176 41,176" fill="#e2e2f6" filter="url(#b8)"/>
<g clip-path="url(#cFb)" opacity=".8"><rect x="-23" y="-279" width="600" height="600" transform="rotate(28 277 21)" filter="url(#nS)"/></g>
<g filter="url(#b4)">
<rect x="110" y="-126" width="330" height="16" fill="#acacea"/>
<rect x="45" y="150" width="440" height="18" fill="#9c9ce2"/>
</g>
<g filter="url(#b2)">
<ellipse cx="72" cy="-3" rx="18" ry="9" fill="#2434d4"/>
<ellipse cx="158" cy="-2" rx="44" ry="16" fill="#1c40e8"/>
<ellipse cx="150" cy="-3" rx="24" ry="8" fill="#2aa6e2"/>
<ellipse cx="236" cy="-8" rx="34" ry="22" fill="#1e52ee"/>
<ellipse cx="234" cy="-6" rx="16" ry="12" fill="#2a9ae6"/>
<rect x="228" y="10" width="14" height="20" fill="#2a4ae6"/>
<polygon points="268,-26 462,-40 476,-28 472,-6 268,4" fill="#1b46ea"/>
<polygon points="288,-18 450,-30 452,-20 288,-8" fill="#2a9ee6"/>
<ellipse cx="509" cy="-16" rx="15" ry="8" fill="#1a2ad0"/>
<ellipse cx="494" cy="87" rx="10" ry="6" fill="#2a30c8"/>
<ellipse cx="392" cy="22" rx="9" ry="6" fill="#3040c8"/>
</g>
<path class="ax" d="M0,-163V161L116,245L564,223"/>
<path class="tk" d="M0,-80h12M0,0h12M0,81h12M0,161h12M53,199l13,-1M108,239l13,-1M145,244l-10,-7M268,237l-10,-7M397,231l-10,-7M527,224l-10,-7"/>
<text class="e" x="-25" y="-62">1.2</text><text class="e" x="-25" y="18">1.0</text><text class="e" x="-25" y="98">0.8</text><text class="e" x="-25" y="162">0.6</text>
<text class="m" x="176" y="298">−0.2</text><text class="m" x="300" y="297">0</text><text class="m" x="426" y="293">0.2</text><text class="m" x="544" y="287">0.4</text>
<text class="m" x="383" y="364"><tspan font-style="italic">X</tspan> (m)</text>
<text class="m" transform="translate(-121,0) rotate(-90)"><tspan font-style="italic">Z</tspan> (m)</text>
<text class="c" transform="translate(-42,199) rotate(40)">1.4</text>
<text class="c" transform="translate(79,285) rotate(40)">1.0</text>
<text class="c" transform="translate(-55,288) rotate(40)"><tspan font-style="italic">Y</tspan> (m)</text>
</g>

<g transform="translate(2732,2304)">
<path class="gr" d="M33,159V-165M152,154V-170M288,147V-177M412,141V-183M448,139V-185M564,223V-101M0,-80L448,-102M0,0L448,-22M0,81L448,59M0,161L448,139M448,-102L564,-18M448,-22L564,62M448,59L564,143"/>
<g filter="url(#b2)">
<ellipse cx="61" cy="-3" rx="12" ry="5" fill="#5058dc" opacity=".8"/>
<ellipse cx="158" cy="0" rx="42" ry="14" fill="#1e66f0"/>
<ellipse cx="150" cy="0" rx="26" ry="8" fill="#30aee0"/>
<ellipse cx="238" cy="-6" rx="32" ry="19" fill="#1e5cf0"/>
<ellipse cx="234" cy="-4" rx="16" ry="10" fill="#2a9ce6"/>
<polygon points="270,-22 460,-34 474,-22 470,-4 270,6" fill="#1b4cec"/>
<polygon points="290,-14 450,-26 452,-18 290,-6" fill="#2aa2e6"/>
<ellipse cx="505" cy="-19" rx="14" ry="8" fill="#1a2ed8"/>
<ellipse cx="382" cy="22" rx="8" ry="5" fill="#4050d0"/>
<ellipse cx="490" cy="96" rx="8" ry="5" fill="#6a6ac8" opacity=".7"/>
</g>
<path class="ax" d="M0,-163V161L116,245L564,223"/>
<path class="tk" d="M0,-80h12M0,0h12M0,81h12M0,161h12M53,199l13,-1M108,239l13,-1M145,244l-10,-7M268,237l-10,-7M397,231l-10,-7M527,224l-10,-7"/>
<text class="e" x="-25" y="-62">1.2</text><text class="e" x="-25" y="18">1.0</text><text class="e" x="-25" y="98">0.8</text><text class="e" x="-25" y="162">0.6</text>
<text class="m" x="176" y="298">−0.2</text><text class="m" x="300" y="297">0</text><text class="m" x="426" y="293">0.2</text><text class="m" x="544" y="287">0.4</text>
<text class="m" x="383" y="364"><tspan font-style="italic">X</tspan> (m)</text>
<text class="m" transform="translate(-121,0) rotate(-90)"><tspan font-style="italic">Z</tspan> (m)</text>
<text class="c" transform="translate(-42,199) rotate(40)">1.4</text>
<text class="c" transform="translate(79,285) rotate(40)">1.0</text>
<text class="c" transform="translate(-55,288) rotate(40)"><tspan font-style="italic">Y</tspan> (m)</text>
</g>

<!-- ========== ROW 5 (bottom, R=2897) ========== -->
<g transform="translate(323,2897)">
<path class="gr" d="M33,159V-165M152,154V-170M288,147V-177M412,141V-183M448,139V-185M564,223V-101M0,-80L448,-102M0,0L448,-22M0,81L448,59M0,161L448,139M448,-102L564,-18M448,-22L564,62M448,59L564,143"/>
<polygon points="62,-118 500,-123 536,-95 536,180 110,196 62,170" fill="#a8a8e4" filter="url(#b8)"/>
<polygon points="62,-118 500,-123 536,-95 536,180 110,196 62,170" filter="url(#nM)"/>
<polygon points="62,-118 500,-123 536,-95 536,180 110,196 62,170" filter="url(#nD)" opacity=".6"/>
<polygon points="62,-118 500,-123 536,-95 536,180 110,196 62,170" filter="url(#nL)"/>
<ellipse cx="290" cy="-85" rx="140" ry="30" fill="#5a5ad8" filter="url(#b8)" opacity=".8"/>
<g filter="url(#b2)">
<polygon points="62,-21 110,-30 200,-38 280,-60 400,-66 446,-42 460,-16 420,-6 300,-2 262,6 246,14 246,44 218,44 205,10 160,2 79,-8" fill="#1c2ee4"/>
<ellipse cx="175" cy="-14" rx="32" ry="12" fill="#2a6cee"/>
<ellipse cx="240" cy="-14" rx="24" ry="20" fill="#2a8ee4"/>
<ellipse cx="238" cy="-14" rx="12" ry="10" fill="#3cbcd0"/>
<polygon points="285,-52 400,-58 430,-40 420,-20 290,-16" fill="#1e5cf0"/>
</g>
<path class="ax" d="M0,-163V161L116,245L564,223"/>
<path class="tk" d="M0,-80h12M0,0h12M0,81h12M0,161h12M53,199l13,-1M108,239l13,-1M145,244l-10,-7M268,237l-10,-7M397,231l-10,-7M527,224l-10,-7"/>
<text class="e" x="-25" y="-62">1.2</text><text class="e" x="-25" y="18">1.0</text><text class="e" x="-25" y="98">0.8</text><text class="e" x="-25" y="162">0.6</text>
<text class="m" x="176" y="298">−0.2</text><text class="m" x="300" y="297">0</text><text class="m" x="426" y="293">0.2</text><text class="m" x="544" y="287">0.4</text>
<text class="m" x="383" y="364"><tspan font-style="italic">X</tspan> (m)</text>
<text class="m" transform="translate(-121,0) rotate(-90)"><tspan font-style="italic">Z</tspan> (m)</text>
<text class="c" transform="translate(-42,199) rotate(40)">1.4</text>
<text class="c" transform="translate(79,285) rotate(40)">1.0</text>
<text class="c" transform="translate(-55,288) rotate(40)"><tspan font-style="italic">Y</tspan> (m)</text>
</g>

<g transform="translate(1134,2897)">
<path class="gr" d="M33,159V-165M152,154V-170M288,147V-177M412,141V-183M448,139V-185M564,223V-101M0,-80L448,-102M0,0L448,-22M0,81L448,59M0,161L448,139M448,-102L564,-18M448,-22L564,62M448,59L564,143"/>
<polygon points="16,-123 462,-142 540,-91 540,184 105,209 16,145" fill="#5a5aee" filter="url(#b8)"/>
<polygon points="20,-119 461,-138 536,-89 536,180 106,205 20,142" fill="#0e0ed6" filter="url(#b2)"/>
<g filter="url(#b4)">
<rect x="30" y="-8" width="440" height="12" fill="#1a28e2" opacity=".8"/>
<ellipse cx="66" cy="-4" rx="10" ry="7" fill="#2a5ef0"/>
<ellipse cx="183" cy="3" rx="20" ry="8" fill="#2a86e8"/>
<ellipse cx="250" cy="0" rx="20" ry="11" fill="#36a0d8"/>
<rect x="306" y="-18" width="160" height="12" rx="6" fill="#2a62f0"/>
<ellipse cx="328" cy="24" rx="8" ry="6" fill="#2a48ea"/>
</g>
<path class="ax" d="M0,-163V161L116,245L564,223"/>
<path class="tk" d="M0,-80h12M0,0h12M0,81h12M0,161h12M53,199l13,-1M108,239l13,-1M145,244l-10,-7M268,237l-10,-7M397,231l-10,-7M527,224l-10,-7"/>
<text class="e" x="-25" y="-62">1.2</text><text class="e" x="-25" y="18">1.0</text><text class="e" x="-25" y="98">0.8</text><text class="e" x="-25" y="162">0.6</text>
<text class="m" x="176" y="298">−0.2</text><text class="m" x="300" y="297">0</text><text class="m" x="426" y="293">0.2</text><text class="m" x="544" y="287">0.4</text>
<text class="m" x="383" y="364"><tspan font-style="italic">X</tspan> (m)</text>
<text class="m" transform="translate(-121,0) rotate(-90)"><tspan font-style="italic">Z</tspan> (m)</text>
<text class="c" transform="translate(-42,199) rotate(40)">1.4</text>
<text class="c" transform="translate(79,285) rotate(40)">1.0</text>
<text class="c" transform="translate(-55,288) rotate(40)"><tspan font-style="italic">Y</tspan> (m)</text>
</g>

<g transform="translate(1938,2897)">
<path class="gr" d="M33,159V-165M152,154V-170M288,147V-177M412,141V-183M448,139V-185M564,223V-101M0,-80L448,-102M0,0L448,-22M0,81L448,59M0,161L448,139M448,-102L564,-18M448,-22L564,62M448,59L564,143"/>
<polygon points="41,-131 480,-131 514,-100 514,176 41,176" fill="#dcdcf4" filter="url(#b8)"/>
<g clip-path="url(#cFb)" opacity=".85"><rect x="-23" y="-279" width="600" height="600" transform="rotate(28 277 21)" filter="url(#nS)"/></g>
<g clip-path="url(#cFb)" opacity=".3"><rect x="-23" y="-279" width="600" height="600" transform="rotate(32 277 21)" filter="url(#nS)"/></g>
<g filter="url(#b4)">
<rect x="110" y="-120" width="330" height="16" fill="#acacea"/>
<rect x="45" y="150" width="440" height="18" fill="#9898e2"/>
</g>
<g filter="url(#b2)">
<ellipse cx="72" cy="-3" rx="18" ry="9" fill="#2434d4"/>
<ellipse cx="158" cy="-2" rx="44" ry="16" fill="#1c40e8"/>
<ellipse cx="150" cy="-3" rx="24" ry="8" fill="#2aa6e2"/>
<ellipse cx="236" cy="-8" rx="34" ry="22" fill="#1e52ee"/>
<ellipse cx="234" cy="-6" rx="16" ry="12" fill="#2a9ae6"/>
<rect x="228" y="10" width="14" height="16" fill="#2a4ae6"/>
<polygon points="268,-26 462,-40 476,-28 472,-6 268,4" fill="#1b46ea"/>
<polygon points="288,-18 450,-30 452,-20 288,-8" fill="#2a9ee6"/>
<ellipse cx="509" cy="-16" rx="15" ry="8" fill="#1a2ad0"/>
<ellipse cx="494" cy="87" rx="10" ry="6" fill="#2a30c8"/>
<ellipse cx="392" cy="22" rx="9" ry="6" fill="#3040c8"/>
</g>
<path class="ax" d="M0,-163V161L116,245L564,223"/>
<path class="tk" d="M0,-80h12M0,0h12M0,81h12M0,161h12M53,199l13,-1M108,239l13,-1M145,244l-10,-7M268,237l-10,-7M397,231l-10,-7M527,224l-10,-7"/>
<text class="e" x="-25" y="-62">1.2</text><text class="e" x="-25" y="18">1.0</text><text class="e" x="-25" y="98">0.8</text><text class="e" x="-25" y="162">0.6</text>
<text class="m" x="176" y="298">−0.2</text><text class="m" x="300" y="297">0</text><text class="m" x="426" y="293">0.2</text><text class="m" x="544" y="287">0.4</text>
<text class="m" x="383" y="364"><tspan font-style="italic">X</tspan> (m)</text>
<text class="m" transform="translate(-121,0) rotate(-90)"><tspan font-style="italic">Z</tspan> (m)</text>
<text class="c" transform="translate(-42,199) rotate(40)">1.4</text>
<text class="c" transform="translate(79,285) rotate(40)">1.0</text>
<text class="c" transform="translate(-55,288) rotate(40)"><tspan font-style="italic">Y</tspan> (m)</text>
</g>

<g transform="translate(2732,2897)">
<path class="gr" d="M33,159V-165M152,154V-170M288,147V-177M412,141V-183M448,139V-185M564,223V-101M0,-80L448,-102M0,0L448,-22M0,81L448,59M0,161L448,139M448,-102L564,-18M448,-22L564,62M448,59L564,143"/>
<g filter="url(#b2)">
<ellipse cx="61" cy="-3" rx="12" ry="5" fill="#5058dc" opacity=".8"/>
<ellipse cx="160" cy="-2" rx="40" ry="13" fill="#1e66f0"/>
<ellipse cx="152" cy="-2" rx="24" ry="7" fill="#30aee0"/>
<ellipse cx="240" cy="-8" rx="32" ry="17" fill="#1e5cf0"/>
<ellipse cx="236" cy="-6" rx="16" ry="9" fill="#2a9ce6"/>
<polygon points="272,-20 460,-32 474,-22 470,-4 272,4" fill="#1b4cec"/>
<polygon points="290,-14 450,-24 452,-16 290,-6" fill="#2aa2e6"/>
<ellipse cx="505" cy="-19" rx="13" ry="7" fill="#1a2ed8"/>
<ellipse cx="382" cy="20" rx="8" ry="5" fill="#4050d0"/>
</g>
<path class="ax" d="M0,-163V161L116,245L564,223"/>
<path class="tk" d="M0,-80h12M0,0h12M0,81h12M0,161h12M53,199l13,-1M108,239l13,-1M145,244l-10,-7M268,237l-10,-7M397,231l-10,-7M527,224l-10,-7"/>
<text class="e" x="-25" y="-62">1.2</text><text class="e" x="-25" y="18">1.0</text><text class="e" x="-25" y="98">0.8</text><text class="e" x="-25" y="162">0.6</text>
<text class="m" x="176" y="298">−0.2</text><text class="m" x="300" y="297">0</text><text class="m" x="426" y="293">0.2</text><text class="m" x="544" y="287">0.4</text>
<text class="m" x="383" y="364"><tspan font-style="italic">X</tspan> (m)</text>
<text class="m" transform="translate(-121,0) rotate(-90)"><tspan font-style="italic">Z</tspan> (m)</text>
<text class="c" transform="translate(-42,199) rotate(40)">1.4</text>
<text class="c" transform="translate(79,285) rotate(40)">1.0</text>
<text class="c" transform="translate(-55,288) rotate(40)"><tspan font-style="italic">Y</tspan> (m)</text>
</g>

<!-- ========== ROW 6 (bottom, R=3487) ========== -->
<g transform="translate(323,3487)">
<path class="gr" d="M33,159V-165M152,154V-170M288,147V-177M412,141V-183M448,139V-185M564,223V-101M0,-80L448,-102M0,0L448,-22M0,81L448,59M0,161L448,139M448,-102L564,-18M448,-22L564,62M448,59L564,143"/>
<polygon points="66,-96 470,-120 534,-112 543,-80 543,182 522,218 100,218 66,192" fill="#7a7aea" filter="url(#b8)"/>
<polygon points="72,-90 470,-114 528,-106 537,-78 537,178 518,212 102,212 72,188" fill="#2424d6" filter="url(#b2)"/>
<polygon points="72,-90 470,-114 528,-106 537,-78 537,178 518,212 102,212 72,188" filter="url(#nB)" opacity=".8"/>
<polygon points="72,-90 470,-114 528,-106 537,-78 537,178 518,212 102,212 72,188" filter="url(#nD)"/>
<g filter="url(#b4)">
<rect x="100" y="-30" width="210" height="30" fill="#1c3ce8" opacity=".8"/>
<ellipse cx="150" cy="-14" rx="16" ry="10" fill="#2a7ce8"/>
<ellipse cx="232" cy="-14" rx="18" ry="12" fill="#30a0d8"/>
<rect x="300" y="-36" width="150" height="18" fill="#2a4ef0"/>
</g>
<path class="ax" d="M0,-163V161L116,245L564,223"/>
<path class="tk" d="M0,-80h12M0,0h12M0,81h12M0,161h12M53,199l13,-1M108,239l13,-1M145,244l-10,-7M268,237l-10,-7M397,231l-10,-7M527,224l-10,-7"/>
<text class="e" x="-25" y="-62">1.2</text><text class="e" x="-25" y="18">1.0</text><text class="e" x="-25" y="98">0.8</text><text class="e" x="-25" y="162">0.6</text>
<text class="m" x="176" y="298">−0.2</text><text class="m" x="300" y="297">0</text><text class="m" x="426" y="293">0.2</text><text class="m" x="544" y="287">0.4</text>
<text class="m" x="383" y="364"><tspan font-style="italic">X</tspan> (m)</text>
<text class="m" transform="translate(-121,0) rotate(-90)"><tspan font-style="italic">Z</tspan> (m)</text>
<text class="c" transform="translate(-42,199) rotate(40)">1.4</text>
<text class="c" transform="translate(79,285) rotate(40)">1.0</text>
<text class="c" transform="translate(-55,288) rotate(40)"><tspan font-style="italic">Y</tspan> (m)</text>
</g>

<g transform="translate(1134,3487)">
<path class="gr" d="M33,159V-165M152,154V-170M288,147V-177M412,141V-183M448,139V-185M564,223V-101M0,-80L448,-102M0,0L448,-22M0,81L448,59M0,161L448,139M448,-102L564,-18M448,-22L564,62M448,59L564,143"/>
<polygon points="16,-125 473,-151 540,-87 540,182 105,207 16,156" fill="#5a5aee" filter="url(#b8)"/>
<polygon points="20,-121 472,-147 536,-85 536,178 106,203 20,153" fill="#0e0ed6" filter="url(#b2)"/>
<g filter="url(#b4)">
<rect x="30" y="-8" width="440" height="12" fill="#1a28e2" opacity=".7"/>
<ellipse cx="183" cy="3" rx="20" ry="8" fill="#2a86e8"/>
<ellipse cx="250" cy="0" rx="20" ry="11" fill="#36a0d8"/>
<rect x="306" y="-16" width="160" height="12" rx="6" fill="#2a62f0"/>
<ellipse cx="328" cy="24" rx="8" ry="6" fill="#2a48ea"/>
</g>
<path class="ax" d="M0,-163V161L116,245L564,223"/>
<path class="tk" d="M0,-80h12M0,0h12M0,81h12M0,161h12M53,199l13,-1M108,239l13,-1M145,244l-10,-7M268,237l-10,-7M397,231l-10,-7M527,224l-10,-7"/>
<text class="e" x="-25" y="-62">1.2</text><text class="e" x="-25" y="18">1.0</text><text class="e" x="-25" y="98">0.8</text><text class="e" x="-25" y="162">0.6</text>
<text class="m" x="176" y="298">−0.2</text><text class="m" x="300" y="297">0</text><text class="m" x="426" y="293">0.2</text><text class="m" x="544" y="287">0.4</text>
<text class="m" x="383" y="364"><tspan font-style="italic">X</tspan> (m)</text>
<text class="m" transform="translate(-121,0) rotate(-90)"><tspan font-style="italic">Z</tspan> (m)</text>
<text class="c" transform="translate(-42,199) rotate(40)">1.4</text>
<text class="c" transform="translate(79,285) rotate(40)">1.0</text>
<text class="c" transform="translate(-55,288) rotate(40)"><tspan font-style="italic">Y</tspan> (m)</text>
</g>

<g transform="translate(1938,3487)">
<path class="gr" d="M33,159V-165M152,154V-170M288,147V-177M412,141V-183M448,139V-185M564,223V-101M0,-80L448,-102M0,0L448,-22M0,81L448,59M0,161L448,139M448,-102L564,-18M448,-22L564,62M448,59L564,143"/>
<polygon points="41,-131 480,-131 514,-100 514,176 41,176" fill="#e0e0f5" filter="url(#b8)"/>
<g clip-path="url(#cFb)" opacity=".8"><rect x="-23" y="-279" width="600" height="600" transform="rotate(28 277 21)" filter="url(#nS)"/></g>
<g filter="url(#b2)">
<ellipse cx="72" cy="-3" rx="14" ry="7" fill="#4048d0"/>
<ellipse cx="158" cy="-4" rx="42" ry="14" fill="#1c40e8"/>
<ellipse cx="150" cy="-5" rx="22" ry="7" fill="#2aa6e2"/>
<ellipse cx="236" cy="-8" rx="32" ry="18" fill="#1e52ee"/>
<ellipse cx="234" cy="-6" rx="14" ry="10" fill="#2a9ae6"/>
<polygon points="268,-22 462,-34 476,-24 472,-4 268,4" fill="#1b46ea"/>
<polygon points="288,-14 450,-26 452,-18 288,-6" fill="#2a9ee6"/>
<ellipse cx="509" cy="-16" rx="12" ry="7" fill="#3a3ad0"/>
</g>
<path class="ax" d="M0,-163V161L116,245L564,223"/>
<path class="tk" d="M0,-80h12M0,0h12M0,81h12M0,161h12M53,199l13,-1M108,239l13,-1M145,244l-10,-7M268,237l-10,-7M397,231l-10,-7M527,224l-10,-7"/>
<text class="e" x="-25" y="-62">1.2</text><text class="e" x="-25" y="18">1.0</text><text class="e" x="-25" y="98">0.8</text><text class="e" x="-25" y="162">0.6</text>
<text class="m" x="176" y="298">−0.2</text><text class="m" x="300" y="297">0</text><text class="m" x="426" y="293">0.2</text><text class="m" x="544" y="287">0.4</text>
<text class="m" x="383" y="364"><tspan font-style="italic">X</tspan> (m)</text>
<text class="m" transform="translate(-121,0) rotate(-90)"><tspan font-style="italic">Z</tspan> (m)</text>
<text class="c" transform="translate(-42,199) rotate(40)">1.4</text>
<text class="c" transform="translate(79,285) rotate(40)">1.0</text>
<text class="c" transform="translate(-55,288) rotate(40)"><tspan font-style="italic">Y</tspan> (m)</text>
</g>

<g transform="translate(2732,3487)">
<path class="gr" d="M33,159V-165M152,154V-170M288,147V-177M412,141V-183M448,139V-185M564,223V-101M0,-80L448,-102M0,0L448,-22M0,81L448,59M0,161L448,139M448,-102L564,-18M448,-22L564,62M448,59L564,143"/>
<g filter="url(#b2)">
<ellipse cx="162" cy="-4" rx="36" ry="12" fill="#1e66f0"/>
<ellipse cx="156" cy="-4" rx="20" ry="6" fill="#30aee0"/>
<ellipse cx="236" cy="-6" rx="26" ry="15" fill="#1e6af0"/>
<ellipse cx="234" cy="-4" rx="12" ry="7" fill="#2aa6e4"/>
<polygon points="262,-16 462,-26 470,-18 466,0 262,6" fill="#1e56ee"/>
<polygon points="280,-10 450,-20 452,-12 280,-2" fill="#2aa2e6"/>
<ellipse cx="510" cy="-20" rx="7" ry="6" fill="#8080c8" opacity=".7"/>
</g>
<path class="ax" d="M0,-163V161L116,245L564,223"/>
<path class="tk" d="M0,-80h12M0,0h12M0,81h12M0,161h12M53,199l13,-1M108,239l13,-1M145,244l-10,-7M268,237l-10,-7M397,231l-10,-7M527,224l-10,-7"/>
<text class="e" x="-25" y="-62">1.2</text><text class="e" x="-25" y="18">1.0</text><text class="e" x="-25" y="98">0.8</text><text class="e" x="-25" y="162">0.6</text>
<text class="m" x="176" y="298">−0.2</text><text class="m" x="300" y="297">0</text><text class="m" x="426" y="293">0.2</text><text class="m" x="544" y="287">0.4</text>
<text class="m" x="383" y="364"><tspan font-style="italic">X</tspan> (m)</text>
<text class="m" transform="translate(-121,0) rotate(-90)"><tspan font-style="italic">Z</tspan> (m)</text>
<text class="c" transform="translate(-42,199) rotate(40)">1.4</text>
<text class="c" transform="translate(79,285) rotate(40)">1.0</text>
<text class="c" transform="translate(-55,288) rotate(40)"><tspan font-style="italic">Y</tspan> (m)</text>
</g>

<!-- caption b -->
<text class="m" x="1784" y="3943" textLength="420" lengthAdjust="spacingAndGlyphs" style="font-size:56px">(b) 反射面为墙面</text>
<text class="m" x="1793" y="4006" textLength="663" lengthAdjust="spacingAndGlyphs" style="font-size:56px">(b) Reflective surface: Wall</text>
</svg>
</body></html>
